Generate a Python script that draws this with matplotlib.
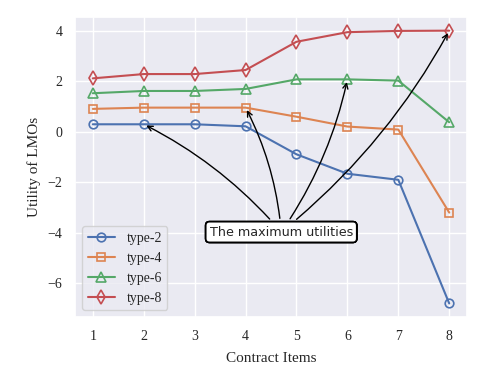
import matplotlib
matplotlib.use("Agg")
import matplotlib.pyplot as plt
import seaborn as sns
import numpy as np

items = [1, 2, 3, 4, 5, 6, 7, 8]
type2 = [0.30, 0.30, 0.30, 0.22, -0.89, -1.66, -1.90, -6.80]
type4 = [0.91, 0.96, 0.96, 0.96, 0.60, 0.21, 0.09, -3.20]
type6 = [1.53, 1.62, 1.62, 1.70, 2.08, 2.08, 2.03, 0.38]
type8 = [2.12, 2.29, 2.29, 2.45, 3.57, 3.95, 4.00, 4.01]
labels = ["type-2", "type-4", "type-6", "type-8"]
markers = ["o", "s", "^", "d"]
max_idx = [1, 3, 5, 7]
max_vals = [type2[1], type4[3], type6[5], type8[7]]

sns.set_theme(style="darkgrid")
plt.rcParams['font.family'] = ['Liberation Serif', 'DejaVu Serif']
plt.rcParams['mathtext.fontset'] = 'stix'

fig, ax = plt.subplots(figsize=(4.81, 3.7), dpi=100)
fig.subplots_adjust(left=0.156, right=0.971, top=0.954, bottom=0.143)
colors = sns.color_palette("deep")
msizes = [6.2, 6.0, 6.5, 7.0]
for s, lab, m, c, ms in zip([type2, type4, type6, type8], labels, markers, colors, msizes):
    ax.plot(items, s, marker=m, label=lab, color=c, markerfacecolor='none',
            markersize=ms, markeredgewidth=1.2, linewidth=1.5)

for i, v in zip(max_idx, max_vals):
    ax.annotate("The maximum utilities", xy=(items[i], v), xytext=(4.7, -3.97),
                ha='center', va='center', fontsize=9.2, family='DejaVu Sans',
                bbox=dict(boxstyle='round,pad=0.3', fc='white', ec='black', lw=1.2),
                arrowprops=dict(arrowstyle='->', color='black', lw=1.0,
                                connectionstyle='arc3,rad=0.1'))

ax.set_xticks(items)
ax.set_yticks([-6, -4, -2, 0, 2, 4])
ax.set_xlabel("Contract Items", fontsize=11, labelpad=7)
ax.set_ylabel("Utility of LMOs", fontsize=11, labelpad=5)
ax.tick_params(labelsize=10, pad=3)
ax.legend(loc='lower left', fontsize=10, frameon=True)
fig.savefig("out.png", dpi=100)
